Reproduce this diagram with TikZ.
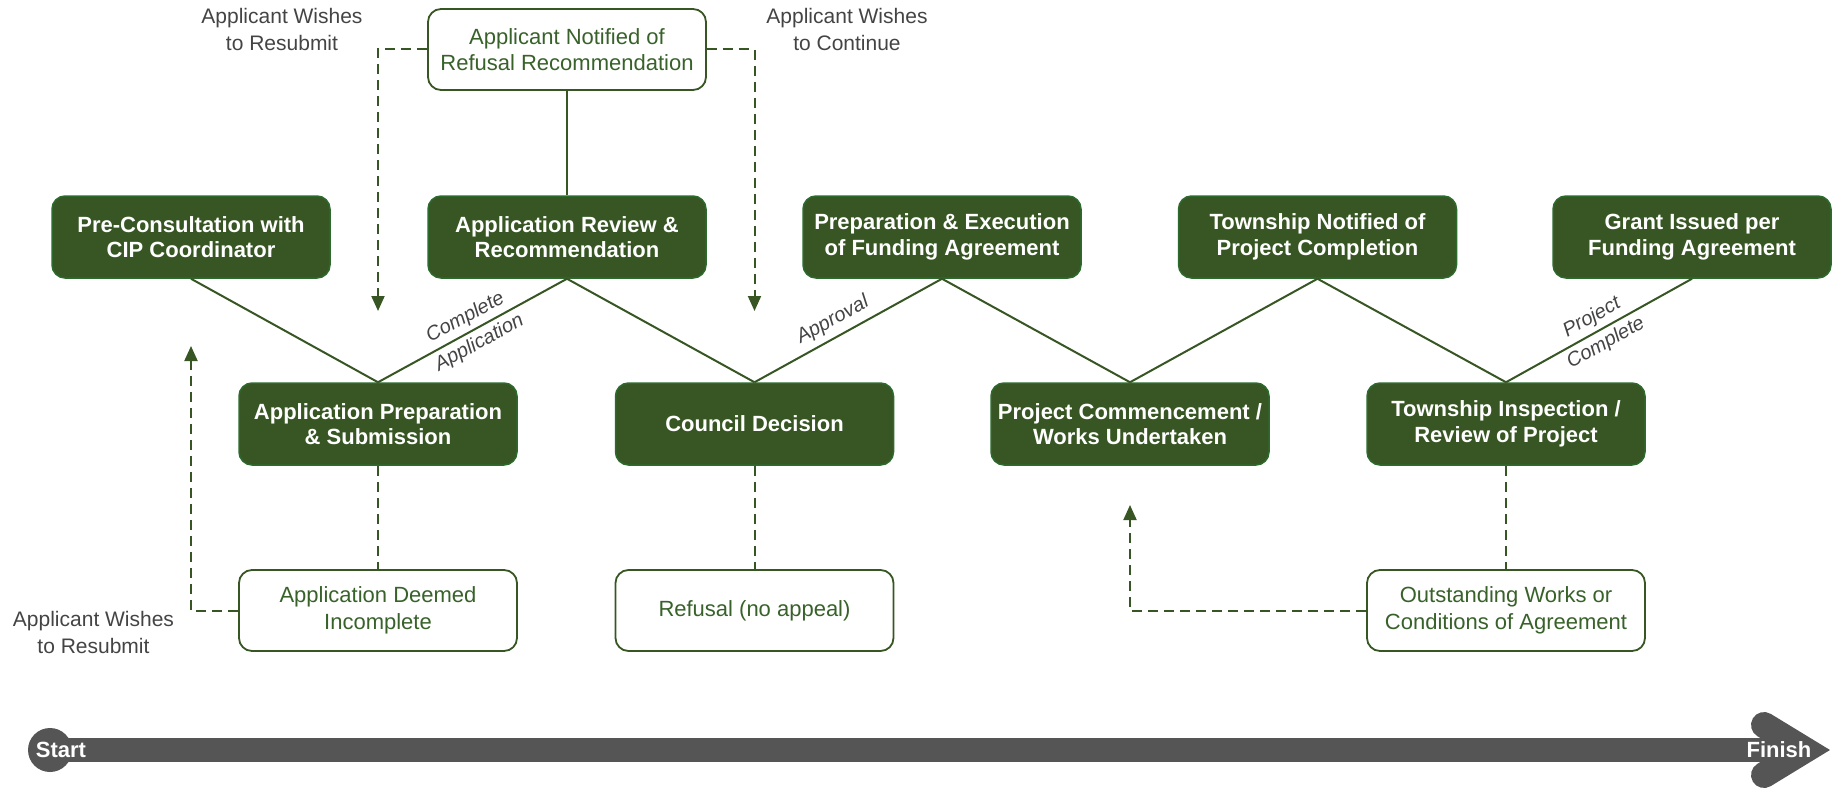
\documentclass[tikz,border=0pt]{standalone}
\usepackage{fontspec}
\setmainfont{Liberation Sans}
\usetikzlibrary{arrows.meta}
\definecolor{dkgreen}{HTML}{375623}
\definecolor{edgegreen}{HTML}{2C6A2E}
\definecolor{txtgreen}{HTML}{38622A}
\definecolor{labgray}{HTML}{444444}
\definecolor{bargray}{HTML}{555555}
\begin{document}
\begin{tikzpicture}[x=1pt,y=1pt,
  stage/.style={draw=edgegreen, line width=1.5pt, fill=dkgreen, rounded corners=13pt, minimum width=278pt, minimum height=82pt, text=white, font=\fontsize{22}{25.5}\selectfont\bfseries, align=center, inner sep=0pt},
  outcome/.style={draw=dkgreen, line width=1.8pt, fill=white, rounded corners=13pt, minimum width=278pt, minimum height=81pt, text=txtgreen, font=\fontsize{22}{26.5}\selectfont, align=center, inner sep=0pt},
  flow/.style={draw=dkgreen, line width=2pt},
  alt/.style={draw=dkgreen, line width=2pt, dash pattern=on 10pt off 6pt},
  altarrow/.style={alt, -{Triangle[length=15pt,width=13pt]}},
  note/.style={text=labgray, font=\fontsize{21}{27}\selectfont, align=center},
  slopenote/.style={text=labgray, font=\fontsize{20}{29}\selectfont\itshape, align=center, sloped, inner sep=0pt},
  tltext/.style={text=white, font=\fontsize{22}{26}\selectfont\bfseries, inner sep=0pt}
]
\useasboundingbox (0,0) rectangle (1832,-789);

% top row
\node[stage] (pre) at (191,-237) {Pre-Consultation with\\CIP Coordinator};
\node[stage] (review) at (567,-237) {Application Review \&\\Recommendation};
\node[stage] (prepexec) at (942,-237) {Preparation \& Execution\\of Funding Agreement};
\node[stage] (notified) at (1317.5,-237) {Township Notified of\\Project Completion};
\node[stage] (grant) at (1692,-237) {Grant Issued per\\Funding Agreement};

% bottom row
\node[stage] (prep) at (378,-424) {Application Preparation\\\& Submission};
\node[stage] (council) at (754.5,-424) {Council Decision};
\node[stage] (commence) at (1130,-424) {Project Commencement /\\Works Undertaken};
\node[stage] (inspect) at (1506,-424) {Township Inspection /\\Review of Project};

% outcome boxes
\node[outcome] (refnote) at (567,-49.5) {Applicant Notified of\\Refusal Recommendation};
\node[outcome] (incomplete) at (378,-610.5) {Application Deemed\\Incomplete};
\node[outcome] (refusal) at (754.5,-610.5) {Refusal (no appeal)};
\node[outcome] (outstanding) at (1506,-610.5) {Outstanding Works or\\Conditions of Agreement};

% notes
\node[note] (n1) at (282,-29) {Applicant Wishes\\to Resubmit};
\node[note] (n2) at (847,-29) {Applicant Wishes\\to Continue};
\node[note] (n3) at (93.5,-632) {Applicant Wishes\\to Resubmit};

% zigzag
\draw[flow] (pre.south) -- (prep.north);
\draw[flow] (prep.north) -- node[slopenote]{Complete\\Application} (review.south);
\draw[flow] (review.south) -- (council.north);
\draw[flow] (council.north) -- node[slopenote, pos=0.46, above=6pt]{Approval} (prepexec.south);
\draw[flow] (prepexec.south) -- (commence.north);
\draw[flow] (commence.north) -- (notified.south);
\draw[flow] (notified.south) -- (inspect.north);
\draw[flow] (inspect.north) -- node[slopenote]{Project\\Complete} (grant.south);
\draw[flow] (refnote.south) -- (review.north);

% dashed
\coordinate (r1) at (378,-311);
\coordinate (r2) at (754.5,-311);
\coordinate (r3) at (191,-346);
\coordinate (r4) at (1130,-505);
\draw[altarrow] (refnote.west) -| (r1);
\draw[altarrow] (refnote.east) -| (r2);
\draw[alt] (prep.south) -- (incomplete.north);
\draw[alt] (council.south) -- (refusal.north);
\draw[alt] (inspect.south) -- (outstanding.north);
\draw[altarrow] (incomplete.west) -| (r3);
\draw[altarrow] (outstanding.west) -| (r4);

% timeline
\fill[bargray] (50,-750) circle (22);
\draw[bargray, line width=24pt] (50,-750) -- (1800,-750);
\draw[bargray, line width=26pt, line cap=round, miter limit=10] (1764,-725) -- (1805,-750) -- (1764,-775);
\node[tltext] (start) at (61,-750) {Start};
\node[tltext] (finish) at (1779,-750) {Finish};
\end{tikzpicture}
\end{document}
